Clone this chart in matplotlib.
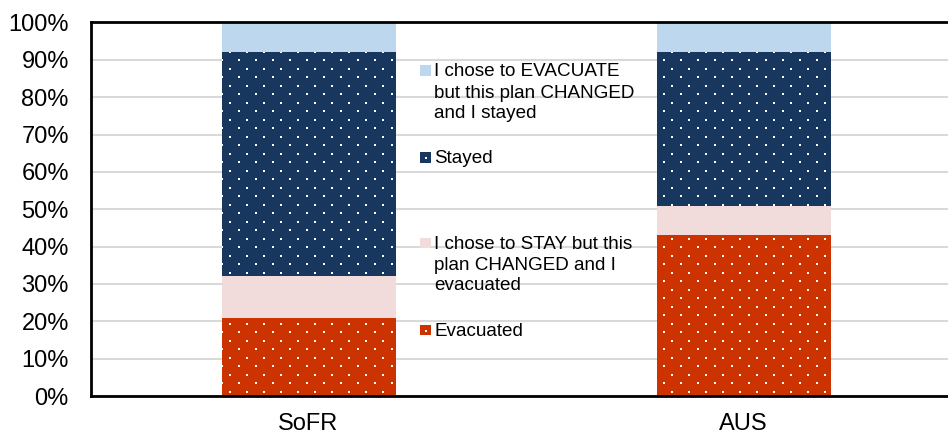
import numpy as np
import matplotlib
matplotlib.use("Agg")
import matplotlib.pyplot as plt
from matplotlib.patches import Rectangle

plt.rcParams['font.family'] = ['Liberation Sans', 'DejaVu Sans']

groups = ['SoFR', 'AUS']
evacuated = [21, 43]
stay_changed = [11, 8]
stayed = [60, 41]
evac_changed = [8, 8]

series_labels = [
    'Evacuated',
    'I chose to STAY but this\nplan CHANGED and I\nevacuated',
    'Stayed',
    'I chose to EVACUATE\nbut this plan CHANGED\nand I stayed',
]
series_colors = ['#CC3300', '#F2DCDB', '#17375E', '#BDD7EE']
dotted = [True, False, True, False]

fig = plt.figure(figsize=(9.48, 4.36), dpi=100)
W, H = 948, 436
ax = fig.add_axes([91 / W, 1 - 396 / H, (961 - 91) / W, (396 - 22.5) / H])

x = np.arange(len(groups))
bottom = np.zeros(len(groups))
bars = []
for vals, color in zip([evacuated, stay_changed, stayed, evac_changed], series_colors):
    b = ax.bar(x, vals, width=0.4, bottom=bottom, color=color, zorder=2)
    bars.append(b)
    bottom += np.array(vals)

ax.set_xlim(-0.5, 1.5)
ax.set_ylim(0, 100)
ax.set_yticks(np.arange(0, 101, 10))
ax.set_yticklabels([f'{v}%' for v in range(0, 101, 10)])
ax.set_xticks(x)
ax.set_xticklabels(groups)
ax.tick_params(axis='y', length=0, pad=16, labelsize=17, colors='black')
ax.tick_params(axis='x', length=0, pad=12, labelsize=17)
ax.yaxis.grid(True, color='#D9D9D9', linewidth=1.5, zorder=0)
ax.set_axisbelow(True)

for side in ['left', 'top', 'bottom']:
    ax.spines[side].set_linewidth(2)
    ax.spines[side].set_color('black')
ax.spines['right'].set_visible(False)

# white dot texture on the dark segments, staggered rows
dx, dy = 17 / 870, 8.5 / 373.5
pts = []
for j, yy in enumerate(np.arange(dy / 2, 1, dy)):
    off = 0 if j % 2 == 0 else dx / 2
    for xx in np.arange(off + 0.004, 1, dx):
        pts.append((xx, yy))
pts = np.array(pts)
for b, is_dotted in zip(bars, dotted):
    if not is_dotted:
        continue
    for patch in b.patches:
        dots = ax.scatter(pts[:, 0], pts[:, 1], s=4, marker='s', color='white',
                          linewidths=0, transform=ax.transAxes, zorder=3)
        dots.set_clip_path(patch)

# legend column between the two bars
legend_rows = [76.5, 163, 248.5, 335.5]
for label, color, is_dotted, base in zip(series_labels[::-1], series_colors[::-1],
                                         dotted[::-1], legend_rows):
    sq = Rectangle((420 / W, 1 - (base - 0.5) / H), 10.5 / W, 10.5 / H,
                   transform=fig.transFigure, facecolor=color, edgecolor='none')
    fig.add_artist(sq)
    if is_dotted:
        fig.add_artist(Rectangle((424.5 / W, 1 - (base - 4) / H), 2 / W, 2 / H,
                                 transform=fig.transFigure, facecolor='white',
                                 edgecolor='none'))
    for k, line in enumerate(label.split('\n')):
        fig.text(434 / W, 1 - (base + 21 * k) / H, line, fontsize=13.6,
                 va='baseline', ha='left')

fig.savefig('out.png', dpi=100)
